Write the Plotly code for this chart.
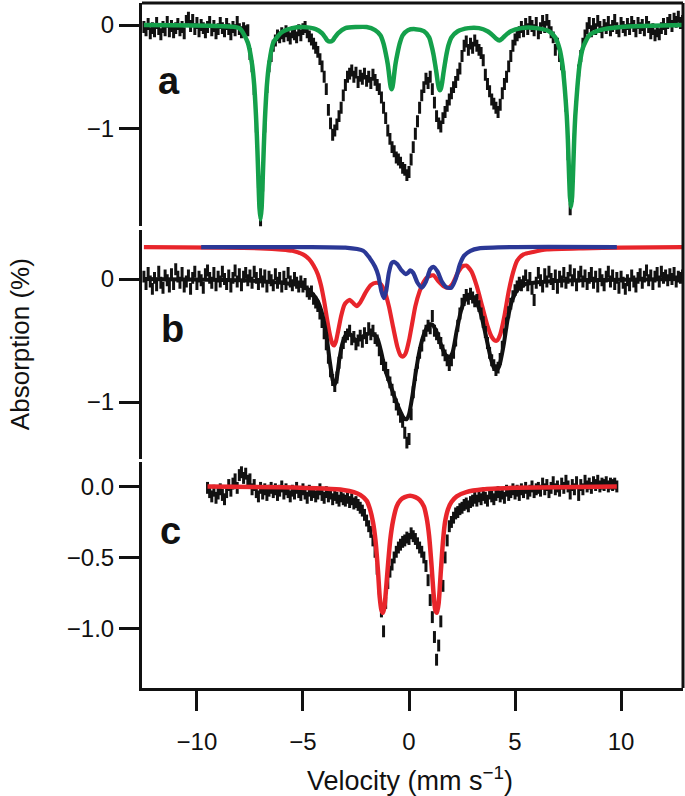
import numpy as np
import plotly.graph_objects as go

# ---------------- Panel a: measured spectrum (channel step 0.1 mm/s from -12.5) ----------------
vel_a_start = -12.5
absorb_a = [
    -0.02, -0.05, 0.01, -0.08, -0.03, -0.06, 0.02, -0.04, -0.09, -0.02,
    -0.05, 0.03, -0.06, -0.01, -0.07, -0.03, 0.01, -0.05, -0.02, -0.08,
    0.04, 0.07, -0.01, 0.05, -0.04, 0.02, -0.06, 0.00, -0.03, -0.07,
    -0.02, 0.03, -0.05, -0.01, -0.08, -0.04, 0.02, -0.03, -0.06, 0.01,
    -0.04, -0.09, -0.02, -0.05, 0.03, -0.04, -0.07, -0.03, -0.06, -0.05,
    -0.28, -0.40, -0.62, -0.98, -1.52, -1.93, -1.55, -0.98, -0.60, -0.40, -0.30,
    -0.20, -0.15, -0.10, -0.12, -0.08, -0.11, -0.06, -0.10, -0.13, -0.07,
    -0.09, -0.12, -0.05, -0.10, -0.04, -0.02, -0.07, -0.11, -0.14, -0.18, -0.22,
    -0.26, -0.33, -0.40, -0.50, -0.62, -0.82, -0.95, -1.06, -1.02, -0.96,
    -0.88, -0.80, -0.68, -0.58, -0.50, -0.47,
    -0.44, -0.50, -0.46, -0.55, -0.49, -0.52, -0.47, -0.54, -0.50, -0.56,
    -0.48, -0.53, -0.58, -0.62,
    -0.70, -0.80, -0.90, -1.02, -1.10, -1.18, -1.22, -1.28, -1.30, -1.33,
    -1.38, -1.40, -1.45, -1.42,
    -1.30, -1.18, -1.05, -0.93, -0.80, -0.68, -0.60, -0.52, -0.56, -0.50,
    -0.62, -0.75, -0.88, -0.95, -0.98, -0.90, -0.84, -0.78, -0.72, -0.66,
    -0.60, -0.55, -0.48, -0.42, -0.30, -0.20, -0.16, -0.24, -0.18, -0.22,
    -0.15, -0.20, -0.24, -0.27, -0.34, -0.48, -0.57, -0.64, -0.72, -0.76,
    -0.80, -0.84, -0.77, -0.66, -0.57, -0.50, -0.40, -0.30, -0.20, -0.14,
    -0.10, -0.07, -0.02, -0.06, 0.01, -0.04, 0.03, -0.01, -0.05, 0.02,
    -0.08, -0.03, 0.04, -0.02, 0.05, -0.01, -0.07, -0.12, -0.24, -0.18,
    -0.30, -0.38, -0.50, -0.78, -1.25, -1.78, -1.65, -1.10, -0.68, -0.44,
    -0.30, -0.18, -0.10,
    -0.03, 0.02, -0.06, 0.01, -0.04, 0.04, -0.02, -0.07, 0.00, -0.03,
    0.03, -0.05, -0.01, 0.05, -0.03, -0.06, 0.02, -0.02, -0.05, 0.01,
    -0.04, 0.03, -0.01, -0.06, 0.02, -0.03, 0.00, -0.05, 0.03, -0.02,
    -0.08, -0.04, -0.10, -0.06, -0.09, -0.03, 0.01, -0.04, 0.02, 0.05,
    -0.01, 0.06, 0.03, 0.08, 0.02, 0.04,
]

# Panel a: sextet fit (green)
fit_a_x = [-12.5, -9.0, -8.0, -7.6, -7.4, -7.3, -7.2, -7.15, -7.1, -7.05, -7.0, -6.95, -6.9, -6.85,
           -6.8, -6.7, -6.6, -6.4, -6.0, -5.5, -5.0, -4.4, -4.1, -3.95, -3.85, -3.73, -3.6, -3.5,
           -3.35, -3.0, -2.5, -2.0, -1.6, -1.35, -1.2, -1.1, -1.0, -0.95, -0.9, -0.86, -0.82, -0.78,
           -0.74, -0.69, -0.64, -0.54, -0.44, -0.3, -0.05, 0.3, 0.7, 0.95, 1.05, 1.15, 1.24, 1.3,
           1.36, 1.41, 1.46, 1.51, 1.56, 1.62, 1.68, 1.77, 1.87, 2.0, 2.3, 2.8, 3.3, 3.7, 3.95, 4.1,
           4.26, 4.4, 4.55, 4.8, 5.3, 6.0, 6.6, 6.9, 7.1, 7.24, 7.34, 7.44, 7.49, 7.54, 7.59, 7.64,
           7.69, 7.74, 7.79, 7.84, 7.94, 8.04, 8.2, 8.5, 9.0, 10.0, 11.0, 12.9]
fit_a_y = [0.0, -0.01, -0.03, -0.17, -0.38, -0.58, -0.94, -1.2, -1.5, -1.77, -1.88, -1.77, -1.5, -1.2,
           -0.94, -0.58, -0.38, -0.17, -0.07, -0.03, -0.02, -0.04, -0.08, -0.12, -0.15, -0.16, -0.15, -0.12,
           -0.08, -0.03, -0.02, -0.02, -0.05, -0.1, -0.18, -0.27, -0.38, -0.46, -0.55, -0.6, -0.62, -0.6,
           -0.55, -0.46, -0.38, -0.27, -0.18, -0.1, -0.05, -0.04, -0.06, -0.12, -0.19, -0.28, -0.39, -0.47,
           -0.56, -0.61, -0.63, -0.61, -0.56, -0.47, -0.39, -0.28, -0.19, -0.12, -0.06, -0.03, -0.03, -0.06, -0.1, -0.13,
           -0.15, -0.13, -0.1, -0.06, -0.03, -0.03, -0.06, -0.12, -0.23, -0.39, -0.6, -0.88, -1.1, -1.4, -1.66, -1.76,
           -1.66, -1.4, -1.1, -0.88, -0.6, -0.39, -0.22, -0.1, -0.05, -0.02, -0.01, 0.0]

# ---------------- Panel b ----------------
vel_b_start = -12.5
absorb_b = [
    0.02, -0.04, 0.05, -0.02, -0.08, 0.01, -0.05, 0.06, -0.03, -0.07,
    0.03, -0.01, -0.06, 0.04, -0.04, 0.08, 0.02, -0.03, 0.05, -0.06,
    -0.02, 0.03, -0.08, 0.01, 0.06, -0.04, 0.02, -0.01, -0.07, 0.04,
    0.07, 0.01, -0.03, 0.05, -0.05, 0.02, -0.02, 0.06, 0.00, -0.04,
    0.03, -0.06, 0.01, 0.07, -0.02, 0.04, -0.05, 0.02, 0.05, -0.01,
    0.03, -0.03, 0.06, 0.01, -0.04, 0.04, -0.02, 0.03, -0.06, 0.02,
    -0.01, -0.05, 0.04, -0.03, 0.01, -0.06, 0.02, -0.04, 0.05, -0.02,
    -0.05, 0.01, -0.03, -0.06, -0.02,
    -0.06, -0.04, -0.10, -0.12, -0.10, -0.16, -0.19, -0.22, -0.28, -0.35,
    -0.44, -0.53, -0.64, -0.75, -0.82, -0.87, -0.80, -0.68, -0.60, -0.52,
    -0.47, -0.45, -0.42, -0.49, -0.47, -0.53, -0.50, -0.46, -0.51, -0.44,
    -0.48, -0.40, -0.45, -0.42, -0.48, -0.50, -0.58, -0.65, -0.70, -0.72,
    -0.78, -0.84, -0.90, -0.96, -1.02, -1.06, -1.12, -1.16, -1.25, -1.33,
    -1.30, -1.10, -0.92, -0.78, -0.68, -0.60, -0.54, -0.46, -0.42, -0.38,
    -0.40, -0.30, -0.42, -0.45, -0.48, -0.52, -0.58, -0.62, -0.66, -0.70,
    -0.66, -0.60, -0.50, -0.38, -0.28, -0.20, -0.17, -0.13, -0.16, -0.12,
    -0.15, -0.18, -0.17, -0.22, -0.28, -0.35, -0.43, -0.52, -0.60, -0.66,
    -0.70, -0.74, -0.72, -0.65, -0.55, -0.45, -0.36, -0.27, -0.20, -0.14,
    -0.09, -0.06, -0.03, -0.05,
    -0.02, 0.03, -0.05, 0.01, -0.08, -0.17, -0.03, 0.05, -0.01, -0.06,
    0.04, -0.02, 0.06, 0.00, -0.04, 0.03, -0.07, 0.02, -0.02, 0.05,
    -0.03, 0.01, 0.07, -0.01, 0.04, -0.05, 0.02, 0.06, -0.02, 0.03,
    -0.04, 0.01, 0.05, -0.03, 0.02, -0.06, 0.04, -0.01, -0.05, 0.02,
    0.06, -0.02, 0.03, -0.04, 0.01, -0.07, 0.02, -0.03, -0.08, -0.01,
    -0.05, 0.03, -0.02, -0.06, 0.01, 0.04, -0.03, 0.02, 0.07, -0.01,
    0.03, -0.04, 0.02, 0.05, -0.02, 0.06, 0.01, 0.03, -0.01, 0.04,
    0.00, 0.05, -0.02, 0.02, 0.01, 0.03,
]

# Panel b: total fit (black)
fit_b_x = [-12.5, -8.0, -6.0, -5.0, -4.6, -4.3, -4.1, -3.9, -3.75, -3.6, -3.52, -3.42, -3.3, -3.15,
           -3.0, -2.85, -2.7, -2.5, -2.3, -2.0, -1.75, -1.5, -1.3, -1.15, -1.0, -0.8, -0.6, -0.4,
           -0.25, -0.12, 0.0, 0.15, 0.3, 0.5, 0.7, 0.9, 1.1, 1.3, 1.5, 1.7, 1.9, 2.05, 2.25, 2.45,
           2.65, 2.85, 3.1, 3.35, 3.6, 3.85, 4.0, 4.12, 4.25, 4.45, 4.65, 4.85, 5.1, 5.5, 6.5, 8.0, 12.9]
fit_b_y = [0.0, -0.01, -0.03, -0.06, -0.11, -0.18, -0.28, -0.45, -0.65, -0.82, -0.86, -0.82, -0.67, -0.53,
           -0.46, -0.44, -0.46, -0.5, -0.48, -0.45, -0.44, -0.48, -0.6, -0.72, -0.8, -0.9, -1.0, -1.08,
           -1.13, -1.14, -1.1, -0.96, -0.78, -0.58, -0.45, -0.38, -0.37, -0.43, -0.53, -0.61, -0.64, -0.6, -0.42, -0.26,
           -0.17, -0.15, -0.17, -0.26, -0.44, -0.64, -0.72, -0.74, -0.71, -0.55, -0.33, -0.18, -0.09, -0.04, -0.02, -0.01, 0.0]

# Panel b: component 1 (red, offset baseline)
red_b_x = [-12.5, -9.0, -7.0, -6.0, -5.5, -5.0, -4.7, -4.5, -4.3, -4.15, -4.0, -3.85, -3.72, -3.6,
           -3.54, -3.45, -3.35, -3.2, -3.05, -2.9, -2.78, -2.6, -2.47, -2.3, -2.05, -1.8, -1.55, -1.35,
           -1.15, -0.95, -0.75, -0.55, -0.4, -0.28, -0.15, 0.0, 0.15, 0.3, 0.5, 0.7, 0.9, 1.15, 1.4,
           1.65, 1.85, 2.05, 2.3, 2.5, 2.7, 2.95, 3.2, 3.45, 3.7, 3.9, 4.05, 4.15, 4.3, 4.5, 4.7, 4.9,
           5.1, 5.4, 5.86, 6.5, 8.2, 10.0, 12.9]
red_b_y = [0.26, 0.255, 0.25, 0.24, 0.23, 0.2, 0.16, 0.11, 0.04, -0.05, -0.18, -0.34, -0.46, -0.53,
           -0.54, -0.51, -0.43, -0.3, -0.21, -0.18, -0.17, -0.2, -0.22, -0.19, -0.11, -0.05, -0.03, -0.04,
           -0.1, -0.22, -0.39, -0.55, -0.62, -0.63, -0.6, -0.5, -0.36, -0.22, -0.1, -0.02, 0.02, 0.03, -0.02,
           -0.06, -0.07, -0.04, 0.05, 0.1, 0.11, 0.06, -0.06, -0.22, -0.38, -0.47, -0.5, -0.5, -0.45, -0.3, -0.1, 0.05,
           0.15, 0.2, 0.22, 0.24, 0.25, 0.255, 0.26]

# Panel b: component 2 (blue, offset baseline)
blue_b_x = [-9.8, -5.0, -3.0, -2.16, -1.85, -1.6, -1.45, -1.3, -1.18, -1.08, -0.95, -0.82, -0.7, -0.55,
            -0.35, -0.15, -0.05, 0.05, 0.2, 0.4, 0.6, 0.8, 1.0, 1.15, 1.35, 1.55, 1.8, 2.0, 2.2, 2.4,
            2.6, 2.9, 3.3, 5.0, 9.8]
blue_b_y = [0.26, 0.26, 0.255, 0.23, 0.17, 0.1, 0.03, -0.1, -0.155, -0.1, 0.05, 0.13, 0.14, 0.12,
            0.07, 0.04, 0.05, 0.07, 0.05, -0.03, -0.07, -0.02, 0.08, 0.1, 0.06, -0.02, -0.07, -0.07, 0.0, 0.12,
            0.19, 0.23, 0.25, 0.26, 0.26]

# ---------------- Panel c ----------------
vel_c_start = -9.5
absorb_c = [
    -0.01, -0.04, -0.07, -0.03, -0.08, -0.05, -0.02, -0.06, -0.09, -0.04,
    0.01, -0.03, 0.02, 0.05, -0.01, 0.08, 0.10, 0.06, 0.09, 0.04,
    0.05, -0.02, 0.01, -0.04, -0.07, -0.01, -0.05, -0.02, -0.06, -0.03,
    -0.01, -0.04, -0.02, -0.06, -0.03, 0.00, -0.05, -0.02, -0.04, -0.07,
    -0.03, -0.05, -0.01, -0.04, -0.06, -0.02, -0.05, -0.08, -0.03, -0.06,
    -0.04, -0.07, -0.05, -0.02, -0.06, -0.08, -0.04, -0.07, -0.05, -0.09,
    -0.06, -0.08, -0.10, -0.07, -0.09,
    -0.10, -0.08, -0.11, -0.09, -0.12, -0.11, -0.13, -0.15, -0.17, -0.20,
    -0.24, -0.28, -0.32, -0.38, -0.46, -0.58, -0.72, -0.88, -1.02, -0.82,
    -0.68, -0.60, -0.55, -0.50, -0.46, -0.43, -0.41, -0.39, -0.38, -0.36,
    -0.37, -0.33, -0.35, -0.37, -0.40, -0.43, -0.46, -0.50, -0.56, -0.66,
    -0.80, -0.92, -1.06, -1.22, -1.12, -0.95, -0.70, -0.50, -0.38, -0.28,
    -0.25, -0.22, -0.19, -0.18, -0.16, -0.15, -0.13, -0.12, -0.14, -0.11,
    -0.10,
    -0.08, -0.10, -0.07, -0.09, -0.06, -0.08, -0.10, -0.05, -0.07, -0.09,
    -0.06, -0.04, -0.07, -0.05, -0.08, -0.03, -0.06, -0.04, -0.02, -0.05,
    -0.03, -0.06, -0.02, -0.04, -0.01, -0.05, -0.03, 0.00, -0.04, -0.02,
    -0.01, -0.03, 0.02, -0.02, 0.01, -0.04, -0.01, 0.03, -0.02, 0.00,
    -0.03, 0.02, -0.01, 0.04, 0.00, -0.05, 0.01, -0.02, 0.03, -0.06,
    0.01, -0.02, 0.04, 0.00, 0.02, -0.01, 0.03, 0.01, 0.04, 0.00,
    0.02, 0.01, 0.03, 0.00, 0.02, 0.01, 0.02, 0.00,
]

# Panel c: doublet fit (red)
red_c_x = [-9.5, -6.0, -4.0, -3.1, -2.6, -2.3, -2.0, -1.84, -1.7, -1.58, -1.46, -1.38, -1.3, -1.23,
           -1.16, -1.08, -0.99, -0.88, -0.75, -0.58, -0.4, -0.2, 0.05, 0.3, 0.5, 0.7, 0.83, 0.95,
           1.06, 1.15, 1.24, 1.32, 1.4, 1.5, 1.6, 1.7, 1.84, 2.0, 2.25, 2.7, 3.5, 5.0, 7.0, 9.8]
red_c_y = [0.0, -0.005, -0.015, -0.025, -0.04, -0.06, -0.1, -0.16, -0.25, -0.38, -0.6, -0.78, -0.87, -0.89,
           -0.85, -0.72, -0.55, -0.37, -0.24, -0.14, -0.095, -0.075, -0.065, -0.075, -0.095, -0.14, -0.22, -0.35,
           -0.55, -0.74, -0.87, -0.89, -0.82, -0.6, -0.39, -0.25, -0.16, -0.11, -0.07, -0.04, -0.02, -0.01, -0.005, 0.0]

# ---------------- styles ----------------
FONT = "Liberation Sans, Arial, Helvetica, sans-serif"
INK = "#111111"
GREEN = "#14a04b"
RED = "#e8252b"
BLUE = "#2b3896"

vel_a = np.round(vel_a_start + 0.1 * np.arange(len(absorb_a)), 2)
vel_b = np.round(vel_b_start + 0.1 * np.arange(len(absorb_b)), 2)
vel_c = np.round(vel_c_start + 0.1 * np.arange(len(absorb_c)), 2)

data_marker = dict(symbol="line-ns", size=8.5, color=INK, line=dict(width=3.0, color=INK))
spl = dict(shape="spline", smoothing=0.6)

fig = go.Figure()
# panel a
fig.add_trace(go.Scatter(x=vel_a, y=absorb_a, mode="markers", marker=data_marker, xaxis="x", yaxis="y"))
fig.add_trace(go.Scatter(x=fit_a_x, y=fit_a_y, mode="lines", line=dict(color=GREEN, width=4.5, **spl),
                         xaxis="x", yaxis="y"))
# panel b
fig.add_trace(go.Scatter(x=red_b_x, y=red_b_y, mode="lines", line=dict(color=RED, width=4.2, **spl),
                         xaxis="x", yaxis="y2"))
fig.add_trace(go.Scatter(x=blue_b_x, y=blue_b_y, mode="lines", line=dict(color=BLUE, width=4.2, **spl),
                         xaxis="x", yaxis="y2"))
fig.add_trace(go.Scatter(x=vel_b, y=absorb_b, mode="markers", marker=data_marker, xaxis="x", yaxis="y2"))
fig.add_trace(go.Scatter(x=fit_b_x, y=fit_b_y, mode="lines", line=dict(color=INK, width=4, **spl),
                         xaxis="x", yaxis="y2"))
# panel c
fig.add_trace(go.Scatter(x=vel_c, y=absorb_c, mode="markers", marker=data_marker, xaxis="x", yaxis="y3"))
fig.add_trace(go.Scatter(x=red_c_x, y=red_c_y, mode="lines", line=dict(color=RED, width=4.5, **spl),
                         xaxis="x", yaxis="y3"))

common_y = dict(showline=True, linewidth=3, linecolor=INK, ticks="outside", ticklen=20, tickwidth=2.5,
                tickcolor=INK, showgrid=False, zeroline=False, anchor="x",
                tickfont=dict(family=FONT, size=24, color=INK))

fig.update_layout(
    width=685, height=796,
    margin=dict(l=142, r=2, t=3, b=108),
    plot_bgcolor="white", paper_bgcolor="white",
    showlegend=False,
    font=dict(family=FONT, color=INK),
    xaxis=dict(range=[-12.59, 12.92], domain=[0, 1], anchor="y3",
               tickvals=[-10, -5, 0, 5, 10], ticktext=["−10", "−5", "0", "5", "10"],
               ticks="outside", ticklen=20, tickwidth=2.5, tickcolor=INK,
               showline=True, linewidth=3, linecolor=INK, showgrid=False, zeroline=False,
               tickfont=dict(family=FONT, size=24, color=INK), ticklabelstandoff=10),
    yaxis=dict(domain=[0.674, 1.0], range=[-1.945, 0.2126], tickvals=[0, -1], ticktext=["0", "−1"], **common_y),
    yaxis2=dict(domain=[0.335, 0.669], range=[-1.459, 0.401], tickvals=[0, -1], ticktext=["0", "−1"], **common_y),
    yaxis3=dict(domain=[0.0, 0.330], range=[-1.419, 0.1725], tickvals=[0, -0.5, -1.0],
                ticktext=["0.0", "−0.5", "−1.0"], **common_y),
    shapes=[
        dict(type="line", xref="paper", yref="paper", x0=0, x1=1, y0=1, y1=1, line=dict(color=INK, width=3)),
        dict(type="line", xref="paper", yref="paper", x0=1, x1=1, y0=0, y1=1, line=dict(color=INK, width=3)),
    ],
    annotations=[
        dict(text="<b>a</b>", x=0.05, y=0.886, xref="paper", yref="paper", showarrow=False,
             xanchor="center", yanchor="middle", font=dict(family=FONT, size=38, color=INK)),
        dict(text="<b>b</b>", x=0.0573, y=0.524, xref="paper", yref="paper", showarrow=False,
             xanchor="center", yanchor="middle", font=dict(family=FONT, size=38, color=INK)),
        dict(text="<b>c</b>", x=0.0536, y=0.229, xref="paper", yref="paper", showarrow=False,
             xanchor="center", yanchor="middle", font=dict(family=FONT, size=38, color=INK)),
        dict(text="Absorption (%)", x=-0.2255, y=0.502, xref="paper", yref="paper", showarrow=False,
             textangle=-90, xanchor="center", yanchor="middle", font=dict(family=FONT, size=26, color=INK)),
        dict(text="Velocity (mm s<sup>−1</sup>)", x=0.4954, y=-0.1328, xref="paper", yref="paper",
             showarrow=False, xanchor="center", yanchor="middle", font=dict(family=FONT, size=27, color=INK)),
    ],
)

fig.write_html("out.html", config={"displayModeBar": False},
               post_script="document.body.style.margin='0px';")
